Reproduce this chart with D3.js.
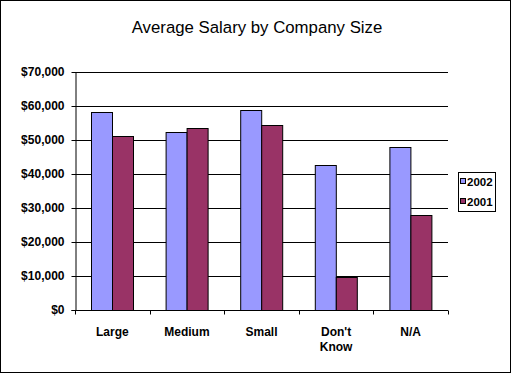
<!DOCTYPE html>
<html><head><meta charset="utf-8">
<script src="https://cdn.jsdelivr.net/npm/d3@7"></script>
<style>
html,body{margin:0;padding:0;background:#fff;}
svg{display:block;}
text{font-family:Arial,"Liberation Sans",sans-serif;}
</style></head>
<body>
<svg id="chart" width="511" height="374"></svg>
<script>
const categories = ["Large", "Medium", "Small", "Don't\nKnow", "N/A"];
const seriesNames = ["2002", "2001"];
const values2002 = [58100, 52500, 58700, 42600, 47900];
const values2001 = [51300, 53400, 54400, 9800, 27800];
const yTicks = [0, 10000, 20000, 30000, 40000, 50000, 60000, 70000];
const colors = ["#9999FF", "#993366"];

const svg = d3.select("#chart");
const W = 511, H = 374;
const m = {left: 75, right: 63, top: 72, bottom: 64};
const pw = W - m.left - m.right, ph = H - m.top - m.bottom;

svg.append("rect").attr("x",0.5).attr("y",0.5).attr("width",510).attr("height",372)
  .attr("fill","#fff").attr("stroke","#000").attr("stroke-width",1);

svg.append("text").attr("x",257).attr("y",33).attr("text-anchor","middle")
  .attr("font-size",16.8).attr("fill","#000").text("Average Salary by Company Size");

const g = svg.append("g").attr("transform",`translate(${m.left},${m.top})`);

const x = d3.scaleBand().domain(categories).range([0,pw]).padding(0);
const y = d3.scaleLinear().domain([0,70000]).range([ph,0]);
const bw = x.bandwidth();
const x1 = d3.scaleBand().domain(seriesNames).range([bw*0.75/3.5, bw - bw*0.75/3.5]).padding(0);

// gridlines
g.selectAll(".grid").data(yTicks.filter(d=>d>0)).enter().append("line")
  .attr("x1",0).attr("x2",pw)
  .attr("y1",d=>Math.round(y(d))+0.5).attr("y2",d=>Math.round(y(d))+0.5)
  .attr("stroke","#000").attr("stroke-width",1);

const data = categories.map((c,i)=>({cat:c, vals:[values2002[i], values2001[i]]}));
const groups = g.selectAll(".grp").data(data).enter().append("g")
  .attr("transform",d=>`translate(${x(d.cat)},0)`);
groups.selectAll("rect").data(d=>d.vals.map((v,j)=>({s:seriesNames[j], v, j}))).enter().append("rect")
  .attr("x",d=>Math.round(x1(d.s))+0.5)
  .attr("y",d=>Math.round(y(d.v))+0.5)
  .attr("width",Math.round(x1.bandwidth()))
  .attr("height",d=>Math.round(y(0))-Math.round(y(d.v)))
  .attr("fill",d=>colors[d.j]).attr("stroke","#000").attr("stroke-width",1);

// y axis
const ya = g.append("g").attr("transform","translate(0.5,0)")
  .call(d3.axisLeft(y).tickValues(yTicks).tickSize(4).tickPadding(7)
    .tickFormat(d=>"$"+d3.format(",")(d)));
ya.select(".domain").attr("d",`M-4,${ph+0.5}H0.5V0`).attr("stroke","#000");
ya.selectAll(".tick line").attr("stroke","#000");
ya.selectAll(".tick").attr("transform",d=>`translate(0,${Math.round(y(d))+0.5})`);
ya.selectAll("text").attr("font-size",12).attr("font-weight","bold").attr("fill","#000")
  .attr("font-family","Arial,'Liberation Sans',sans-serif");

// x axis
const xa = g.append("g").attr("transform",`translate(0,${ph+0.5})`);
xa.append("line").attr("x1",0).attr("x2",pw).attr("stroke","#000");
const bounds = categories.map(c=>x(c)).concat([pw]);
xa.selectAll(".xt").data(bounds).enter().append("line")
  .attr("x1",d=>Math.round(d)+0.5).attr("x2",d=>Math.round(d)+0.5)
  .attr("y1",0).attr("y2",4).attr("stroke","#000");
xa.selectAll(".xl").data(categories).enter().append("text")
  .attr("x",d=>x(d)+bw/2).attr("y",25)
  .attr("text-anchor","middle").attr("font-size",12).attr("font-weight","bold").attr("fill","#000")
  .each(function(d){
    const lines = d.split("\n");
    const t = d3.select(this);
    lines.forEach((l,i)=>t.append("tspan").attr("x",x(d)+bw/2).attr("dy",i===0?0:15).text(l));
  });

// legend
const lg = svg.append("g");
lg.append("rect").attr("x",458.5).attr("y",172.5).attr("width",37).attr("height",39)
  .attr("fill","#fff").attr("stroke","#000");
seriesNames.forEach((s,i)=>{
  const cy = 182 + i*20;
  lg.append("rect").attr("x",460.5).attr("y",cy-3.5).attr("width",5).attr("height",5)
    .attr("fill",colors[i]).attr("stroke","#000");
  lg.append("text").attr("x",467).attr("y",cy+4).attr("font-size",11.5).attr("font-weight","bold")
    .attr("fill","#000").text(s);
});
</script>
</body></html>
